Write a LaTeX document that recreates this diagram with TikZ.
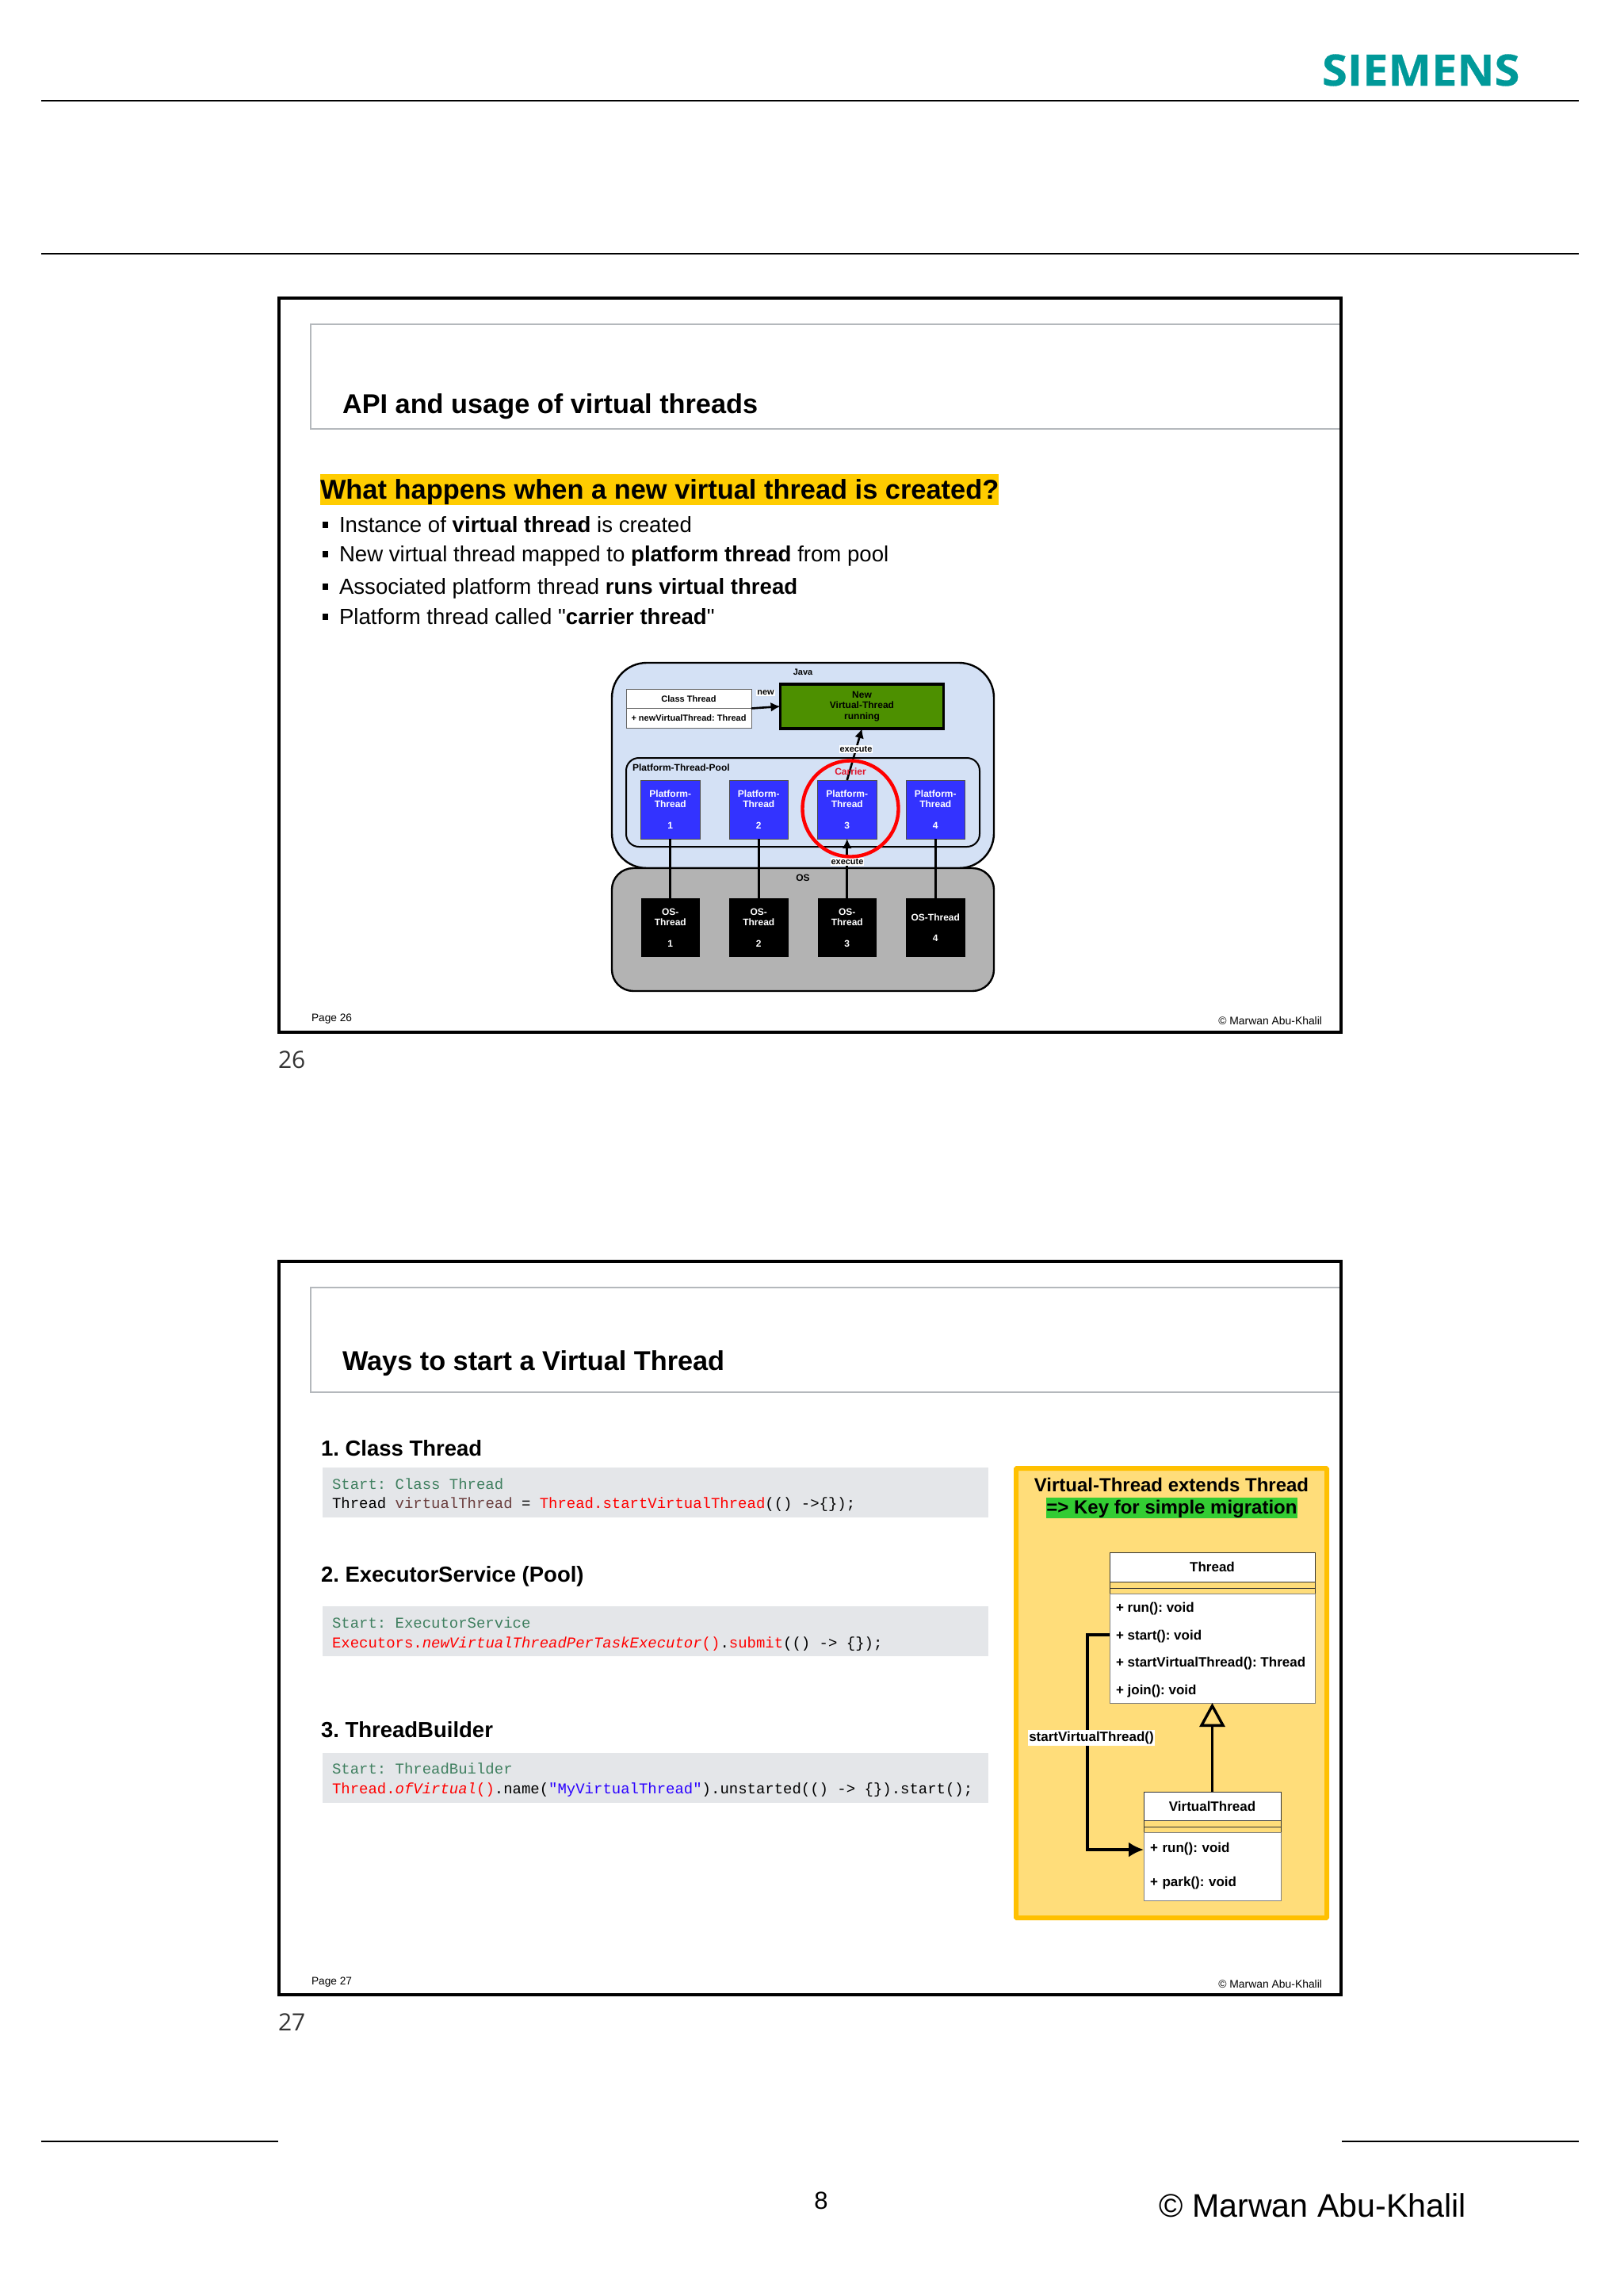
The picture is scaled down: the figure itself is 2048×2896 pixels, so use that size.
\documentclass[tikz,border=0pt]{standalone}
\usepackage{fontspec}
\usepackage{xcolor}
\setmainfont{Liberation Sans}
\newfontfamily\codefont{Liberation Mono}
\newfontfamily\quotefont{Liberation Sans}
\newfontfamily\logofont[FakeStretch=1.06,BoldFeatures={FakeStretch=1.06,FakeBold=0.5}]{Open Sans}
\newfontfamily\pagenofont{Open Sans}
\AtBeginDocument{\frenchspacing}
\usetikzlibrary{arrows.meta,positioning,shapes.geometric}
\definecolor{siemensteal}{HTML}{009999}
\definecolor{titlegray}{HTML}{B4B8BC}
\definecolor{headyellow}{HTML}{FFCC00}
\definecolor{javablue}{HTML}{D4E1F5}
\definecolor{osgray}{HTML}{B3B3B3}
\definecolor{threadblue}{HTML}{3333FF}
\definecolor{runninggreen}{HTML}{4D9000}
\definecolor{carrierred}{HTML}{E0142C}
\definecolor{codegray}{HTML}{E4E6E9}
\definecolor{codegreen}{HTML}{3F7F5F}
\definecolor{codebrown}{HTML}{6A3E3E}
\definecolor{codeblue}{HTML}{2A00FF}
\definecolor{panelyellow}{HTML}{FFDD7A}
\definecolor{panelorange}{HTML}{FFC000}
\definecolor{keygreen}{HTML}{33CC33}
\tikzset{
  every node/.style={inner sep=0pt,outer sep=0pt},
  pagerule/.style={line width=1.7pt,black},
  slideframe/.style={draw,line width=3.4pt,anchor=north west,minimum width=1340pt,minimum height=926pt},
  titlebox/.style={draw=titlegray,line width=1.4pt,anchor=north west,minimum width=1300pt,minimum height=132pt},
  slidetitle/.style={anchor=base west,font=\fontsize{34.3}{40}\selectfont\bfseries},
  bulletmark/.style={fill=black,minimum width=7pt,minimum height=8pt},
  bullettext/.style={anchor=base west,font=\fontsize{27.6}{32}\selectfont},
  footsmall/.style={anchor=base west,font=\fontsize{13.7}{16}\selectfont},
  footright/.style={anchor=base east,font=\fontsize{13.9}{16}\selectfont},
  tinybold/.style={font=\fontsize{12}{13.3}\selectfont\bfseries,align=center},
  threadbox/.style={tinybold,minimum width=74.5pt,minimum height=74pt,text=white},
  platform/.style={threadbox,draw=black!70,line width=0.8pt,fill=threadblue},
  osthread/.style={threadbox,fill=black},
  classcell/.style={draw=black!60,line width=0.8pt,fill=white,minimum width=158pt,minimum height=24.5pt,font=\fontsize{11}{13}\selectfont\bfseries},
  linelabel/.style={fill=white,inner xsep=1pt,inner ysep=1pt,font=\fontsize{11}{13}\selectfont\bfseries},
  linkline/.style={line width=2.6pt},
  linkarrow/.style={line width=2.6pt,-{Latex[length=12pt,width=12pt]}},
  codebox/.style={fill=codegray,anchor=north west,minimum width=840pt,minimum height=63pt},
  codeline/.style={anchor=base west,font=\fontsize{18.97}{22}\codefont\selectfont},
  codehead/.style={anchor=base west,font=\fontsize{27.5}{34}\selectfont\bfseries},
  umlfont/.style={font=\fontsize{17}{20}\selectfont\bfseries},
  umlhead/.style={umlfont,draw=black!80,line width=0.9pt,fill=white},
  umlgap/.style={draw=black!80,line width=0.9pt},
  umlbody/.style={draw=black!50,line width=0.8pt,fill=white,align=left},
  umlside/.style={draw=black!80,line width=0.9pt},
  umlarrow/.style={line width=3.4pt,-{Latex[length=19pt,width=19pt]}},
  umlinherit/.style={line width=3.4pt,-{Triangle[open,length=30pt,width=32pt,line width=3.4pt]}}
}
\begin{document}
\begin{tikzpicture}[x=1pt,y=-1pt]
\path[use as bounding box,fill=white] (0,0) rectangle (2048,2896);

\node[anchor=base west,text=siemensteal,font=\fontsize{54.6}{60}\logofont\selectfont\bfseries] (logo) at (1668,108) {SIEMENS};
\draw[pagerule] (52,127) -- (1992,127);
\draw[pagerule] (52,320) -- (1992,320);
\draw[pagerule] (52,2701) -- (351,2701);
\draw[pagerule] (1693,2701) -- (1992,2701);

\node[titlebox] (titleone) at (392,409) {};
\node[slideframe] (slideone) at (352,376) {};
\node[slidetitle] (titleonetext) at (432,521) {API and usage of virtual threads};
\node[anchor=base west,fill=headyellow,text height=31pt,text depth=8pt,font=\fontsize{34.4}{40}\selectfont\bfseries] (question) at (404,629) {What happens when a new virtual thread is created?};
\node[bulletmark] (bulletone) at (410,662) {};
\node[bulletmark] (bullettwo) at (410,699) {};
\node[bulletmark] (bulletthree) at (410,740) {};
\node[bulletmark] (bulletfour) at (410,778) {};
\node[bullettext] (textone) at (428,671) {Instance of \textbf{virtual thread} is created};
\node[bullettext] (texttwo) at (428,708) {New virtual thread mapped to \textbf{platform thread} from pool};
\node[bullettext] (textthree) at (428,749) {Associated platform thread \textbf{runs virtual thread}};
\node[bullettext] (textfour) at (428,787) {Platform thread called {\quotefont"}\textbf{carrier thread}{\quotefont"}};

\node[draw,line width=2.4pt,rounded corners=44pt,fill=javablue,anchor=north west,minimum width=482pt,minimum height=259pt] (java) at (772,836) {};
\node[draw,line width=2.4pt,rounded corners=27pt,fill=osgray,anchor=north west,minimum width=482pt,minimum height=155pt] (os) at (772,1095) {};
\node[tinybold,font=\fontsize{11}{13}\selectfont\bfseries] (javalabel) at (1013,848) {Java};
\node[tinybold] (oslabel) at (1013,1107) {OS};
\node[classcell,anchor=north west] (classhead) at (790,869) {Class Thread};
\node[classcell,below=0pt of classhead] (classbody) {+ newVirtualThread: Thread};
\node[draw,line width=3.4pt,fill=runninggreen,anchor=north west,minimum width=206pt,minimum height=56pt,tinybold] (newvt) at (984.5,863) {New\\Virtual-Thread\\running};
\node[draw,line width=2pt,rounded corners=16pt,anchor=north west,minimum width=446pt,minimum height=112pt] (pool) at (790,956) {};
\node[tinybold,anchor=west] (poollabel) at (798,968) {Platform-Thread-Pool};
\node[platform,anchor=north west] (ptone) at (808.5,984) {Platform-\\Thread\\[13.3pt]1};
\node[platform,right=37pt of ptone] (pttwo) {Platform-\\Thread\\[13.3pt]2};
\node[platform,right=37pt of pttwo] (ptthree) {Platform-\\Thread\\[13.3pt]3};
\node[platform,right=37pt of ptthree] (ptfour) {Platform-\\Thread\\[13.3pt]4};
\node[osthread,below=75pt of ptone] (osone) {OS-\\Thread\\[13.3pt]1};
\node[osthread,below=75pt of pttwo] (ostwo) {OS-\\Thread\\[13.3pt]2};
\node[osthread,below=75pt of ptthree] (osthree) {OS-\\Thread\\[13.3pt]3};
\node[osthread,below=75pt of ptfour] (osfour) {OS-Thread\\[13.3pt]4};
\draw[linkarrow] (classhead.south east) -- (newvt.west);
\draw[linkarrow] (ptthree.north) -- (newvt.south);
\draw[linkline] (osone.north) -- (ptone.south);
\draw[linkline] (ostwo.north) -- (pttwo.south);
\draw[linkarrow] (osthree.north) -- (ptthree.south);
\draw[linkline] (osfour.north) -- (ptfour.south);
\node[linelabel] (newlabel) at (966,874) {new};
\node[linelabel] (execabove) at (1080,945) {execute};
\node[linelabel] (execbelow) at (1069,1087) {execute};
\node[circle,draw=red,line width=4.4pt,minimum size=121pt] (carriercircle) at (1073,1020) {};
\node[tinybold,text=carrierred] (carrierlabel) at (1073,973) {Carrier};

\node[footsmall] (pageone) at (393,1288) {Page 26};
\node[footright] (copyone) at (1668,1292) {© Marwan Abu-Khalil};
\node[anchor=base west,text=black!80,font=\fontsize{30}{32}\pagenofont\selectfont] (noone) at (351,1347) {26};

\node[titlebox] (titletwo) at (392,1624) {};
\node[slideframe,minimum height=925pt] (slidetwo) at (352,1591) {};
\node[slidetitle] (titletwotext) at (432,1728) {Ways to start a Virtual Thread};

\node[codehead] (headone) at (405,1836) {1. Class Thread};
\node[codebox] (boxone) at (407,1851) {};
\node[codeline,text=codegreen] (codeonea) at (419,1878) {Start: Class Thread};
\node[codeline] (codeoneb) at (419,1902) {Thread \textcolor{codebrown}{virtualThread} = \textcolor{red}{Thread.startVirtualThread}(() ->\{\});};
\node[codehead] (headtwo) at (405,1995) {2. ExecutorService (Pool)};
\node[codebox] (boxtwo) at (407,2026) {};
\node[codeline,text=codegreen] (codetwoa) at (419,2053) {Start: ExecutorService};
\node[codeline] (codetwob) at (419,2078) {\textcolor{red}{Executors.{\itshape newVirtualThreadPerTaskExecutor}()}.\textcolor{red}{submit}(() -> \{\});};
\node[codehead] (headthree) at (405,2191) {3. ThreadBuilder};
\node[codebox] (boxthree) at (407,2211) {};
\node[codeline,text=codegreen] (codethreea) at (419,2237) {Start: ThreadBuilder};
\node[codeline] (codethreeb) at (419,2262) {\textcolor{red}{Thread.{\itshape ofVirtual}()}.name(\textcolor{codeblue}{"MyVirtualThread"}).unstarted(() -> \{\}).start();};

\node[draw=panelorange,fill=panelyellow,line width=6pt,anchor=north west,minimum width=392pt,minimum height=567pt,rounded corners=1pt] (panel) at (1282,1852) {};
\node[anchor=base,font=\fontsize{24}{28}\selectfont\bfseries] (paneltitle) at (1478,1881) {Virtual-Thread extends Thread};
\node[anchor=base,fill=keygreen,text height=20.5pt,text depth=6pt,font=\fontsize{24}{28}\selectfont\bfseries] (panelkey) at (1478.5,1909) {=> Key for simple migration};

\node[umlhead,anchor=north west,minimum width=259pt,minimum height=36.5pt] (threadhead) at (1400,1958.5) {Thread};
\node[umlgap,below=0pt of threadhead,minimum width=259pt,minimum height=8pt] (threadattr) {};
\node[umlbody,below=7pt of threadattr,minimum height=138pt,minimum width=259pt] (threadbody) {};
\node[align=left,anchor=west,font=\fontsize{17}{34.4}\selectfont\bfseries] (threadrows) at ([xshift=8pt,yshift=-2pt]threadbody.west) {+ run(): void\\+ start(): void\\+ startVirtualThread(): Thread\\+ join(): void};
\draw[umlside] (threadattr.south west) -- (threadbody.north west);
\draw[umlside] (threadattr.south east) -- (threadbody.north east);
\node[umlhead,anchor=north west,minimum width=173pt,minimum height=36pt] (vthead) at (1443,2260) {VirtualThread};
\node[umlgap,below=0pt of vthead,minimum width=173pt,minimum height=8pt] (vtattr) {};
\node[umlbody,below=7pt of vtattr,minimum height=86pt,text width=157pt,inner xsep=8pt,font=\fontsize{17}{43}\selectfont\bfseries] (vtbody) {+ run(): void\\+ park(): void};
\draw[umlside] (vtattr.south west) -- (vtbody.north west);
\draw[umlside] (vtattr.south east) -- (vtbody.north east);
\coordinate (startrow) at (1400,2062);
\coordinate (runrow) at (1443,2333);
\draw[umlarrow] (startrow) -- ++(-28,0) |- (runrow);
\draw[umlinherit] (vthead.north) -- (threadbody.south);
\node[fill=white,inner xsep=1pt,inner ysep=2pt,umlfont] (startlabel) at (1377,2192) {startVirtualThread()};

\node[footsmall] (pagetwo) at (393,2503) {Page 27};
\node[footright] (copytwo) at (1668,2507) {© Marwan Abu-Khalil};
\node[anchor=base west,text=black!80,font=\fontsize{30}{32}\pagenofont\selectfont] (notwo) at (351,2561) {27};

\node[anchor=base,font=\fontsize{31}{34}\selectfont] (pagenumber) at (1036,2786) {8};
\node[anchor=base east,font=\fontsize{41.2}{48}\selectfont] (copyright) at (1850,2796) {© Marwan Abu-Khalil};
\end{tikzpicture}
\end{document}
